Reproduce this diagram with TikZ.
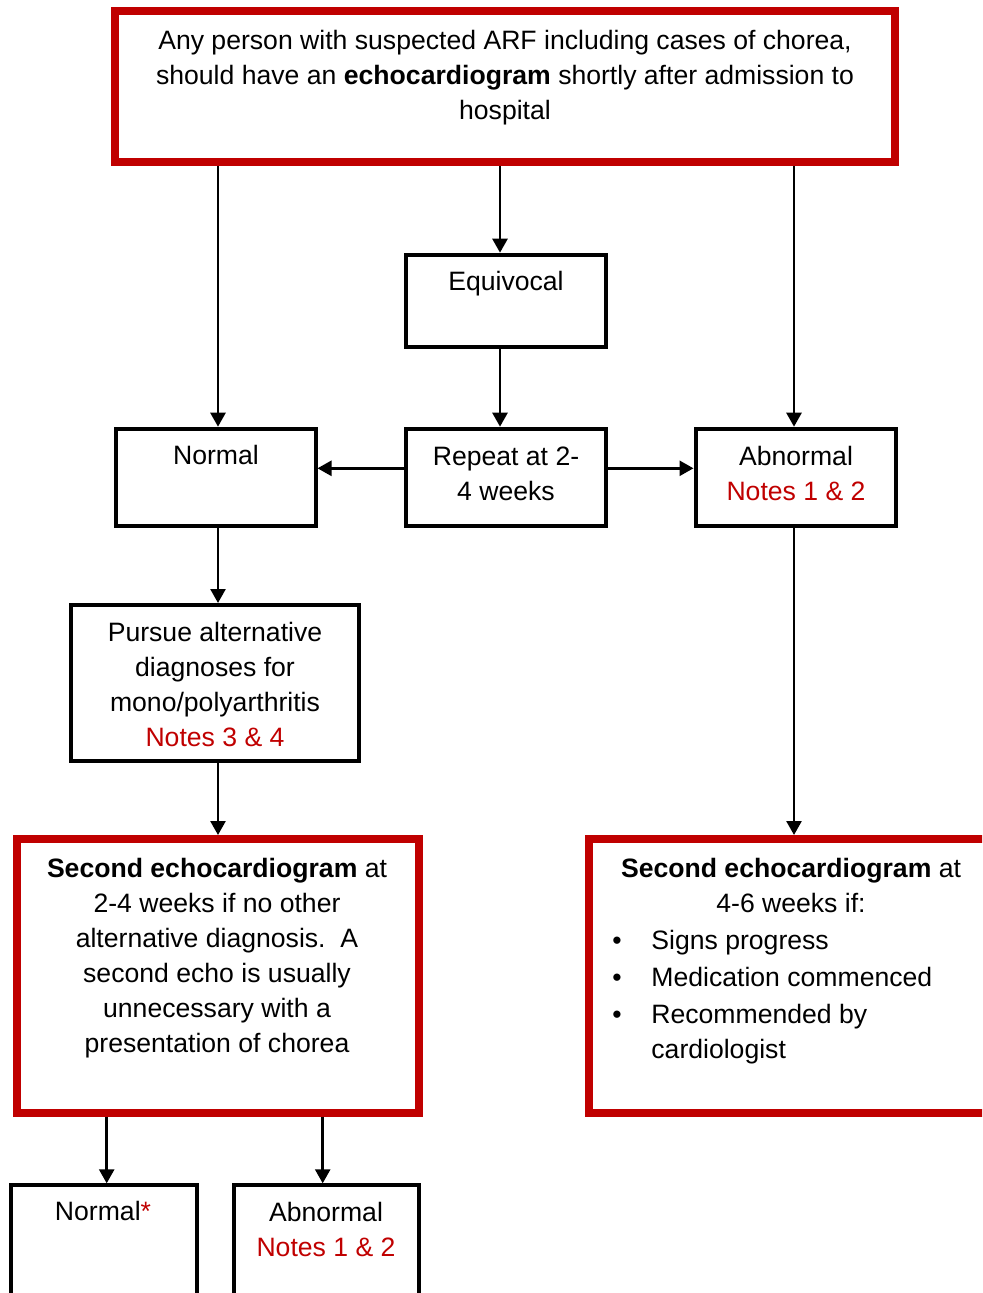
\documentclass[tikz,border=0pt]{standalone}
\usepackage{fontspec}
\setmainfont{Liberation Sans}
\usetikzlibrary{arrows.meta,fit}
\definecolor{darkred}{HTML}{C00000}
\begin{document}
\begin{tikzpicture}[x=0.5pt,y=-0.5pt,
  redbox/.style={draw=darkred,line width=4pt,inner sep=0pt},
  blkbox/.style={draw=black,line width=2pt,inner sep=0pt},
  arr/.style={line width=1.3pt,-{Triangle[width=7.5pt,length=7pt]}},
  txt/.style={font=\fontsize{13.3}{17.5}\selectfont,inner sep=0pt,align=center,anchor=north},
  btxt/.style={font=\fontsize{13.3}{17.5}\selectfont,inner sep=0pt,anchor=base west}]
\useasboundingbox (0,0) rectangle (982,1293);
\clip (0,0) rectangle (982,1293);
% boxes
\node[redbox, fit={(115,11) (895,162.5)}] (top) {};
\node[blkbox, fit={(406,254.7) (606,347)}] (equiv) {};
\node[blkbox, fit={(116,428.7) (315.5,525.5)}] (normal) {};
\node[blkbox, fit={(406,428.7) (606,525.5)}] (repeat) {};
\node[blkbox, fit={(695.5,428.7) (895.5,525.5)}] (abn) {};
\node[blkbox, fit={(71,605) (359,761)}] (pursue) {};
\node[redbox, fit={(16.7,839) (419,1112.5)}] (secl) {};
\node[redbox, fit={(589,839) (1010,1112.5)}] (secr) {};
\node[blkbox, fit={(10.5,1185.3) (197,1330)}] (norm2) {};
\node[blkbox, fit={(234,1185.3) (418.7,1330)}] (abn2) {};
% texts
\node[txt] (ttop) at (505,24.5) {\strut Any person with suspected ARF including cases of chorea,\\ should have an \textbf{echocardiogram} shortly after admission to\\ hospital};
\node[txt] (tequiv) at (506,265.5) {\strut Equivocal};
\node[txt] (tnormal) at (216,439.5) {\strut Normal};
\node[txt] (trepeat) at (506,440.5) {\strut Repeat at 2-\\4 weeks};
\node[txt] (tabn) at (796,440.5) {\strut Abnormal\\\textcolor{darkred}{Notes 1 \& 2}};
\node[txt] (tpursue) at (215,616.5) {\strut Pursue alternative\\diagnoses for\\mono/polyarthritis\\\textcolor{darkred}{Notes 3 \& 4}};
\node[txt] (tsecl) at (217,852.5) {\strut\textbf{Second echocardiogram} at\\2-4 weeks if no other\\alternative diagnosis.\ \ A\\second echo is usually\\unnecessary with a\\presentation of chorea};
\node[txt] (tsecr) at (791,852.5) {\strut\textbf{Second echocardiogram} at\\4-6 weeks if:};
\node[btxt] (b1) at (612,949) {\textbullet};
\node[btxt] (b2) at (612,986) {\textbullet};
\node[btxt] (b3) at (612,1023) {\textbullet};
\node[btxt] (i1) at (651,949) {Signs progress};
\node[btxt] (i2) at (651,986) {Medication commenced};
\node[txt,anchor=north west,align=left] (i3) at (651,998.5) {\strut Recommended by\\cardiologist};
\node[txt] (tnorm2) at (103,1195.5) {\strut Normal\textcolor{darkred}{*}};
\node[txt] (tabn2) at (326,1196.5) {\strut Abnormal\\\textcolor{darkred}{Notes 1 \& 2}};
% arrow x/y positions
\coordinate (xa) at (218,0);
\coordinate (xb) at (500,0);
\coordinate (xc) at (794,0);
\coordinate (xd) at (106.7,0);
\coordinate (xe) at (322.7,0);
\coordinate (yh) at (0,468.3);
% connectors
\draw[arr] (top.south -| xa) -- (normal.north -| xa);
\draw[arr] (top.south -| xb) -- (equiv.north -| xb);
\draw[arr] (top.south -| xc) -- (abn.north -| xc);
\draw[arr] (equiv.south -| xb) -- (repeat.north -| xb);
\draw[arr] (repeat.west |- yh) -- (normal.east |- yh);
\draw[arr] (repeat.east |- yh) -- (abn.west |- yh);
\draw[arr] (normal.south -| xa) -- (pursue.north -| xa);
\draw[arr] (pursue.south -| xa) -- (secl.north -| xa);
\draw[arr] (abn.south -| xc) -- (secr.north -| xc);
\draw[arr] (secl.south -| xd) -- (norm2.north -| xd);
\draw[arr] (secl.south -| xe) -- (abn2.north -| xe);
\end{tikzpicture}
\end{document}
